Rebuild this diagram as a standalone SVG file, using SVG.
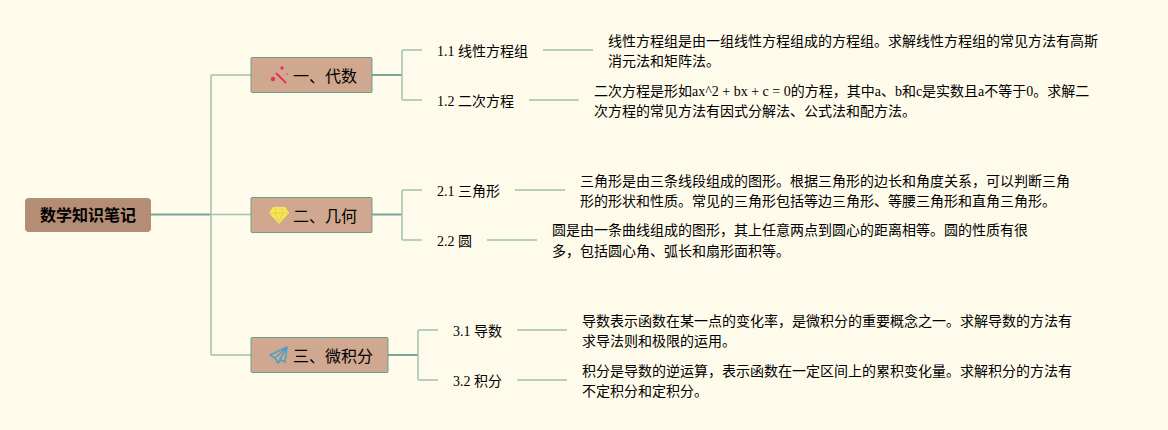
<svg xmlns="http://www.w3.org/2000/svg" width="1168" height="430" viewBox="0 0 1168 430">
<style>
text{font-family:"Liberation Serif","Noto Sans CJK SC",serif;fill:#000}
.t{font-size:14px}
.n{font-size:16px}
.r{font-size:16px;font-weight:bold}
.box{fill:#d0a78f;stroke:#6f9f8c;stroke-width:1}
.c1{fill:none;stroke:#a0c2ae;stroke-width:1.500}
.c0{fill:none;stroke:#74a896;stroke-width:2}
.c2{fill:none;stroke:#a0c2ae;stroke-width:1.500}
</style>
<rect width="1168" height="430" fill="#fffbeb"/>
<g id="connectors">
<path class="c0" d="M151 214.500H211"/>
<path class="c1" d="M251 75H212Q211 75 211 76V354Q211 355 212 355H251M211 214.500H251"/>
<path class="c0" d="M372 75H402M372 214.500H402M388 355H418"/>
<path class="c1" d="M422 50H403Q402 50 402 51V99Q402 100 403 100H422"/>
<path class="c1" d="M422 190H403Q402 190 402 191V239Q402 240 403 240H422"/>
<path class="c1" d="M438 330H419Q418 330 418 331V379Q418 380 419 380H438"/>
<path class="c2" d="M543 50H593M529 100H579M515 190H565M487 240H537M517 330H567M517 380H567"/>
</g>
<g id="root"><rect x="25" y="198" width="126" height="34" rx="4" fill="#b38d74"/><text class="r" x="40" y="221">数学知识笔记</text></g>
<g id="n1"><rect class="box" x="251" y="57.500" width="121" height="35" rx="1"/>
<path d="M276 73L286 83" fill="none" stroke="#e8305c" stroke-width="2"/>
<g fill="#e8305c"><circle cx="273" cy="79" r="2.200"/><circle cx="282" cy="68" r="1.700"/><circle cx="287" cy="74" r="0.800"/></g>
<text class="n" x="293" y="81.500">一、代数</text></g>
<g id="n2"><rect class="box" x="251" y="197.500" width="121" height="35" rx="1"/>
<path d="M273 207.500H285L288.500 213L279 223.500L269.500 213Z" fill="#f7e656" stroke="#f7e656"/>
<path d="M270 213H288M276 208L275 213L279 222L283 213L282 208" fill="none" stroke="#d8c850" stroke-width="0.700"/>
<text class="n" x="293" y="221.500">二、几何</text></g>
<g id="n3"><rect class="box" x="251" y="337.500" width="137" height="35" rx="1"/>
<path d="M287 347L270 355L275 358L278 363L281 360L285 362ZM275 358L287 347L278 363" fill="none" stroke="#4f9fc4" stroke-width="1.500" stroke-linejoin="round"/>
<text class="n" x="293" y="361.500">三、微积分</text></g>
<g id="n11"><text class="t" x="437" y="56">1.1 线性方程组</text></g>
<g id="n12"><text class="t" x="437" y="106">1.2 二次方程</text></g>
<g id="n21"><text class="t" x="437" y="196">2.1 三角形</text></g>
<g id="n22"><text class="t" x="437" y="246">2.2 圆</text></g>
<g id="n31"><text class="t" x="453" y="336">3.1 导数</text></g>
<g id="n32"><text class="t" x="453" y="386">3.2 积分</text></g>
<g id="d11"><text class="t" x="608" y="46">线性方程组是由一组线性方程组成的方程组。求解线性方程组的常见方法有高斯</text><text class="t" x="608" y="66">消元法和矩阵法。</text></g>
<g id="d12"><text class="t" x="594" y="96">二次方程是形如ax^2 + bx + c = 0的方程，其中a、b和c是实数且a不等于0。求解二</text><text class="t" x="594" y="116">次方程的常见方法有因式分解法、公式法和配方法。</text></g>
<g id="d21"><text class="t" x="580" y="186">三角形是由三条线段组成的图形。根据三角形的边长和角度关系，可以判断三角</text><text class="t" x="580" y="206">形的形状和性质。常见的三角形包括等边三角形、等腰三角形和直角三角形。</text></g>
<g id="d22"><text class="t" x="552" y="235">圆是由一条曲线组成的图形，其上任意两点到圆心的距离相等。圆的性质有很</text><text class="t" x="552" y="256">多，包括圆心角、弧长和扇形面积等。</text></g>
<g id="d31"><text class="t" x="582" y="326">导数表示函数在某一点的变化率，是微积分的重要概念之一。求解导数的方法有</text><text class="t" x="582" y="346">求导法则和极限的运用。</text></g>
<g id="d32"><text class="t" x="582" y="376">积分是导数的逆运算，表示函数在一定区间上的累积变化量。求解积分的方法有</text><text class="t" x="582" y="396">不定积分和定积分。</text></g>
</svg>
